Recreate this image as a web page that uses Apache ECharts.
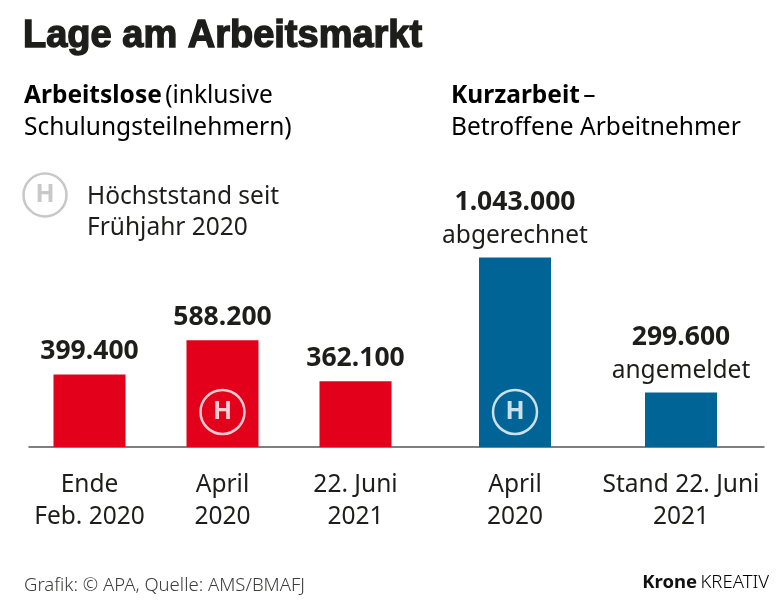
<!DOCTYPE html>
<html><head><meta charset="utf-8">
<style>html,body{margin:0;padding:0;background:#fff}#c{width:780px;height:605px}</style>
<script src="https://cdn.jsdelivr.net/npm/echarts@6/dist/echarts.min.js"></script>
</head><body><div id="c"></div>
<script>
const FONT = '"Noto Sans"';
const INK = '#1d1d1b';
const titleText = 'Lage am Arbeitsmarkt';
const leftCategories = ['Ende\nFeb. 2020', 'April\n2020', '22. Juni\n2021'];
const leftValues = [399400, 588200, 362100];
const leftValueLabels = ['399.400', '588.200', '362.100'];
const rightCategories = ['April\n2020', 'Stand 22. Juni\n2021'];
const rightValues = [1043000, 299600];
const rightValueLabels = ['1.043.000', '299.600'];
const rightNotes = ['abgerechnet', 'angemeldet'];
const peakLeft = [['April\n2020', 193000]];
const peakRight = [['April\n2020', 193000]];
const yMax = 1200000;

const axisLab = {fontFamily: FONT, fontSize: 24.5, color: INK, lineHeight: 32, margin: 22, interval: 0};
const yAxis = i => ({gridIndex: i, type: 'value', min: 0, max: yMax, show: false});
const xAxis = (i, data) => ({gridIndex: i, type: 'category', data, axisLine: {show: false}, axisTick: {show: false}, axisLabel: axisLab});
const peak = (i, data) => ({type: 'scatter', xAxisIndex: i, yAxisIndex: i, data, symbol: 'circle', symbolSize: 44,
  itemStyle: {color: 'rgba(0,0,0,0)', borderColor: '#fff', borderWidth: 2.5}, silent: true,
  label: {show: true, position: 'inside', formatter: 'H', color: '#fff', fontFamily: FONT, fontWeight: 'bold', fontSize: 25}, z: 5});
const bold = {fontFamily: FONT, fontWeight: 'bold', fontSize: 26.5, color: INK, lineHeight: 34};
const reg = {fontFamily: FONT, fontSize: 24.5, color: INK, lineHeight: 32};
const text = (x, y, t, extra) => ({type: 'text', x, y, style: Object.assign({text: t, fontFamily: FONT, fontSize: 24.5, fill: INK, lineHeight: 31.5}, extra || {})});

const chart = echarts.init(document.getElementById('c'), null, {renderer: 'canvas'});
chart.setOption({
  backgroundColor: '#fff', animation: false,
  title: {text: titleText, left: 23, top: 18, padding: 0,
    textStyle: {fontFamily: '"Liberation Sans Narrow","Liberation Sans"', fontWeight: 'bold', fontSize: 38, color: INK, textBorderColor: INK, textBorderWidth: 1.4}},
  grid: [
    {left: 23, width: 399, bottom: 158, height: 218},
    {left: 432, width: 332, bottom: 158, height: 218},
    {left: 29, width: 735, bottom: 158, height: 218}
  ],
  xAxis: [xAxis(0, leftCategories), xAxis(1, rightCategories),
    {gridIndex: 2, type: 'category', data: [], axisLine: {show: true, lineStyle: {color: '#555', width: 1.5}}, axisTick: {show: false}, axisLabel: {show: false}}],
  yAxis: [yAxis(0), yAxis(1), yAxis(2)],
  series: [
    {type: 'bar', xAxisIndex: 0, yAxisIndex: 0, barWidth: 72, data: leftValues, itemStyle: {color: '#e2001a'}, z: 3,
     label: {show: true, position: 'top', distance: 6, formatter: p => '{b|' + leftValueLabels[p.dataIndex] + '}', rich: {b: bold}}},
    {type: 'bar', xAxisIndex: 1, yAxisIndex: 1, barWidth: 72, data: rightValues, itemStyle: {color: '#006496'}, z: 3,
     label: {show: true, position: 'top', distance: 6, formatter: p => '{b|' + rightValueLabels[p.dataIndex] + '}\n{r|' + rightNotes[p.dataIndex] + '}', rich: {b: bold, r: reg}}},
    peak(0, peakLeft), peak(1, peakRight)
  ],
  graphic: [
    {type: 'text', x: 24, y: 80, style: {text: '{b|Arbeitslose} {r|(inklusive}\n{r|Schulungsteilnehmern)}', rich: {b: bold2(), r: reg2()}}},
    {type: 'text', x: 451, y: 80, style: {text: '{b|Kurzarbeit} {r|–}\n{r|Betroffene Arbeitnehmer}', rich: {b: bold2(), r: reg2()}}},
    text(87, 181, 'Höchststand seit\nFrühjahr 2020'),
    {type: 'circle', shape: {cx: 45, cy: 195, r: 21.5}, style: {fill: 'none', stroke: '#c8c8c8', lineWidth: 2.5}},
    {type: 'text', x: 45, y: 195, style: {text: 'H', fontFamily: FONT, fontWeight: 'bold', fontSize: 25, fill: '#c8c8c8', align: 'center', verticalAlign: 'middle'}},
    text(24, 570, 'Grafik: © APA, Quelle: AMS/BMAFJ', {fontSize: 18.5, fill: '#3c3c3b', fontWeight: 300}),
    {type: 'text', x: 769, y: 573, style: {text: '{b|Krone} {r|KREATIV}', align: 'right', rich: {
      b: {fontFamily: FONT, fontWeight: 'bold', fontSize: 18.5, fill: '#111', color: '#111'},
      r: {fontFamily: FONT, fontWeight: 300, fontSize: 18.5, color: '#3c3c3b'}}}}
  ]
});
function bold2(){return {fontFamily: FONT, fontWeight: 'bold', fontSize: 24.5, color: INK, lineHeight: 32};}
function reg2(){return {fontFamily: FONT, fontSize: 24.5, color: INK, lineHeight: 32};}
</script></body></html>
